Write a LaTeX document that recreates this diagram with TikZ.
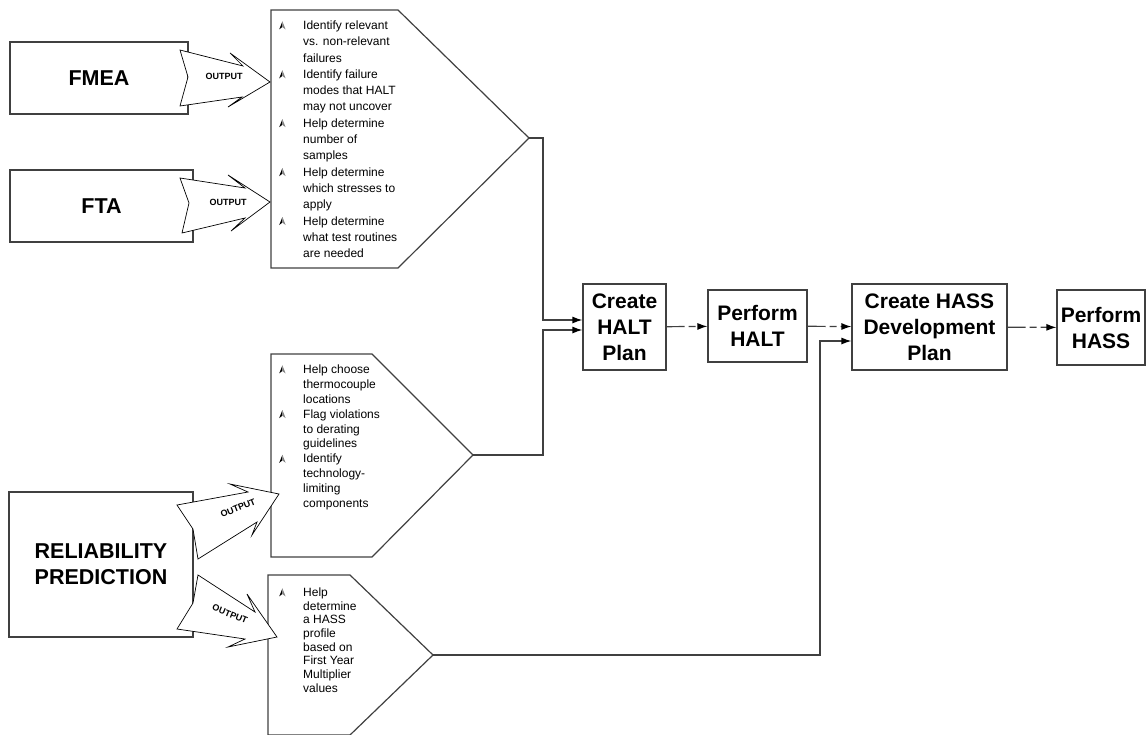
\documentclass[tikz,border=0pt]{standalone}
\usepackage{fontspec}
\setmainfont{Liberation Sans}
\usetikzlibrary{arrows.meta}

% bullet glyph and continuation indent for the item lists
\newcommand{\pointbul}{\tikz[baseline=0pt,x=1pt,y=1pt]{\fill[black] (0,0) -- (3.2,8) -- (3.2,2.4) -- cycle; \fill[black!50] (3.2,8) -- (6.4,0) -- (3.2,2.4) -- cycle;}\hspace*{17.6pt}}
\newcommand{\contline}{\hspace*{24pt}}

\begin{document}
\begin{tikzpicture}[x=1pt,y=-1pt,
	srcbox/.style={draw=black!75, line width=1.2pt, inner sep=0pt, align=center,
		font=\fontsize{21.5}{26}\selectfont\bfseries},
	stepbox/.style={draw=black!75, line width=1.2pt, inner sep=0pt, align=center,
		font=\fontsize{21}{26}\selectfont\bfseries},
	panel/.style={draw=black!75, line width=1.2pt, line join=miter},
	outarrow/.style={draw=black, line width=0.7pt, fill=white, line join=miter},
	outlabel/.style={font=\fontsize{9}{10}\selectfont\bfseries, inner sep=0pt},
	itemtext/.style={font=\fontsize{12}{#1}\selectfont, align=left, inner sep=0pt, anchor=north west},
	link/.style={draw=black!75, line width=1.2pt, -{Latex[length=10pt,width=7pt,color=black]}},
	flowdash/.style={link, dash pattern=on 18pt off 4pt on 7pt off 4pt}]
	\useasboundingbox (0,0) rectangle (1147,734);
	\clip (0,0) rectangle (1147,734);
	
	% Sources
	\node[srcbox, minimum width=178, minimum height=72] (fmea) at (99,78) {FMEA};
	\node[srcbox, minimum width=183, minimum height=72] (fta) at (101.5,206) {FTA};
	\node[srcbox, minimum width=184, minimum height=145] (relpred) at (101,564.5) {RELIABILITY\\PREDICTION};
	
	% Output panels
	\draw[panel] (271,10) -- (398,10) -- (529,138) coordinate (fmeatip) -- (398,268) -- (271,268) -- cycle;
	\draw[panel] (271,354) -- (372,354) -- (473,455) coordinate (thermtip) -- (372,557) -- (271,557) -- cycle;
	\draw[panel] (268,575) -- (350,575) -- (433,655) coordinate (hasstip) -- (350,735) -- (268,735) -- cycle;
	
	% OUTPUT arrows
	\draw[outarrow] (180,50) -- (243,66) -- (230,53) -- (270,82) -- (228,107) -- (242,97) -- (180,106) -- (188,77) -- cycle;
	\node[outlabel] (fmeaout) at (224,76) {OUTPUT};
	\draw[outarrow] (180,178) -- (245,188) -- (228,175) -- (270,202) -- (231,231) -- (245,218) -- (182,233) -- (189,203) -- cycle;
	\node[outlabel] (ftaout) at (228,202) {OUTPUT};
	\draw[outarrow] (177,505) -- (248,492) -- (230,484) -- (279,494) -- (252,535) -- (257,522) -- (198,559) -- (193,529) -- cycle;
	\node[outlabel, rotate=22] (relout) at (238,508) {OUTPUT};
	\draw[outarrow] (198,575) -- (255,612) -- (247,594) -- (277,637) -- (228,647) -- (245,639) -- (177,629) -- (193,603) -- cycle;
	\node[outlabel, rotate=-22] (hassout) at (230,614) {OUTPUT};
	
	% Item lists
	\node[itemtext=16.3] (fmeaitems) at (279,20.5) {%
		\pointbul Identify relevant\\
		\contline vs. non-relevant\\
		\contline failures\\
		\pointbul Identify failure\\
		\contline modes that HALT\\
		\contline may not uncover\\
		\pointbul Help determine\\
		\contline number of\\
		\contline samples\\
		\pointbul Help determine\\
		\contline which stresses to\\
		\contline apply\\
		\pointbul Help determine\\
		\contline what test routines\\
		\contline are needed};
	\node[itemtext=14.9] (thermitems) at (279,364.5) {%
		\pointbul Help choose\\
		\contline thermocouple\\
		\contline locations\\
		\pointbul Flag violations\\
		\contline to derating\\
		\contline guidelines\\
		\pointbul Identify\\
		\contline technology-\\
		\contline limiting\\
		\contline components};
	\node[itemtext=13.7] (hassitems) at (279,587.5) {%
		\pointbul Help\\
		\contline determine\\
		\contline a HASS\\
		\contline profile\\
		\contline based on\\
		\contline First Year\\
		\contline Multiplier\\
		\contline values};
	
	% Process steps
	\node[stepbox, minimum width=83, minimum height=86] (createhalt) at (624.5,327) {Create\\HALT\\Plan};
	\node[stepbox, minimum width=99, minimum height=72] (performhalt) at (757.5,326) {Perform\\HALT};
	\node[stepbox, minimum width=155, minimum height=86] (createhass) at (929.5,327) {Create HASS\\Development\\Plan};
	\node[stepbox, minimum width=88, minimum height=75] (performhass) at (1101,327.5) {Perform\\HASS};
	
	% Connectors
	\draw[link] (fmeatip) -- ++(14,0) |- ([yshift=7pt]createhalt.west);
	\draw[link] (thermtip) -- ++(70,0) |- ([yshift=-3pt]createhalt.west);
	\draw[link] (hasstip) -- ++(387,0) |- ([yshift=-14pt]createhass.west);
	\foreach \from/\to in {createhalt/performhalt, performhalt/createhass, createhass/performhass} {
		\draw[flowdash] (\from) -- (\to);
	}
\end{tikzpicture}
\end{document}
